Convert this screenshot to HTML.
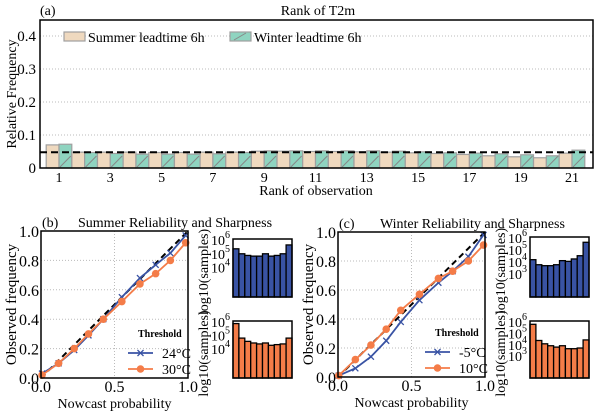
<!DOCTYPE html>
<html><head><meta charset="utf-8">
<style>
html,body{margin:0;padding:0;background:#fff;}
svg, svg text{font-family:"Liberation Serif","Times New Roman",Times,serif;}
svg{display:block;}
</style></head>
<body>
<svg id="fig" width="600" height="415" viewBox="0 0 600 415" font-family="Liberation Serif, Times New Roman, serif">
<g id="pa"></g>
<g id="pb"></g>
<g id="pc"></g>
</svg>
<script>
// ---- Panel (a) data ----
const ranks = [1,2,3,4,5,6,7,8,9,10,11,12,13,14,15,16,17,18,19,20,21];
const summerFreq = [0.070,0.048,0.048,0.048,0.047,0.047,0.048,0.048,0.051,0.051,0.050,0.050,0.049,0.048,0.046,0.044,0.041,0.037,0.034,0.031,0.045];
const winterFreq = [0.072,0.047,0.044,0.042,0.042,0.042,0.043,0.047,0.052,0.052,0.052,0.052,0.052,0.051,0.049,0.046,0.045,0.043,0.040,0.037,0.054];
const rankYTicks = [0,0.1,0.2,0.3,0.4];
const rankXTickLabels = [1,3,5,7,9,11,13,15,17,19,21];
// ---- Reliability data ----
const sumProbA = [0.007,0.12,0.226,0.323,0.424,0.55,0.673,0.78,0.88,0.984];
const sum24 = [0.03,0.10,0.19,0.29,0.40,0.55,0.68,0.77,0.85,0.97];
const sum30 = [0.02,0.10,0.20,0.30,0.40,0.52,0.64,0.71,0.80,0.92];
const winProb = [0.005,0.118,0.224,0.328,0.427,0.554,0.683,0.78,0.887,0.99];
const winM5 = [0.01,0.06,0.14,0.25,0.38,0.53,0.65,0.73,0.83,0.98];
const win10 = [0.01,0.12,0.22,0.33,0.46,0.57,0.68,0.73,0.80,0.91];
const relTicks = [0,0.2,0.4,0.6,0.8,1.0];
const relXTicks = [0,0.5,1.0];
// ---- Sharpness (log10 counts) ----
const sharpSum24 = [5.29,4.93,4.81,4.76,4.76,4.93,4.76,4.81,4.93,5.57];
const sharpSum30 = [5.81,4.74,4.50,4.38,4.31,4.38,4.21,4.26,4.31,4.74];
const sharpWinM5 = [4.11,3.69,3.61,3.61,3.69,4.03,3.97,4.17,4.44,5.56];
const sharpWin10 = [5.71,4.29,4.00,3.83,3.71,3.83,3.57,3.57,3.63,4.34];

const NS="http://www.w3.org/2000/svg";
const FF="Liberation Serif, Times New Roman, serif";
function mk(parent,tag,attrs,text){const e=document.createElementNS(NS,tag);for(const k in attrs)e.setAttribute(k,attrs[k]);if(tag==='text')e.setAttribute('font-family',FF);if(text!==undefined)e.textContent=text;parent.appendChild(e);return e;}

// ===== Panel A =====
(function(){
const g=document.getElementById('pa');
const L=40,R=593,T=20,B=168;
const y=v=>B-v*330;
const xc=r=>59+(r-1)*25.65;
rankYTicks.forEach(t=>{
 if(t>0){const gl=mk(g,'line',{x1:L,x2:R,y1:y(t),y2:y(t),stroke:'#bbb','stroke-dasharray':'1,2','stroke-width':1});
 }
 const tl=mk(g,'text',{x:L-4,y:y(t)+5,'font-size':15,'text-anchor':'end'},t===0?'0':t.toFixed(1));
 
});
ranks.forEach((r,i)=>{
 const w=12.8;
 const b1=mk(g,'rect',{x:xc(r)-w,y:y(summerFreq[i]),width:w,height:B-y(summerFreq[i]),fill:'#efd9bf',stroke:'#a0a0a0','stroke-width':1.2});
 
 const b2=mk(g,'rect',{x:xc(r),y:y(winterFreq[i]),width:w,height:B-y(winterFreq[i]),fill:'#8fd4c0',stroke:'#a0a0a0','stroke-width':1.2});
 
 const h=mk(g,'line',{x1:xc(r)+1,y1:B-1,x2:xc(r)+w-1,y2:B-12,stroke:'#888','stroke-width':1});
 
});
const ref=mk(g,'line',{x1:L,x2:R,y1:y(1/21),y2:y(1/21),stroke:'#000','stroke-width':2,'stroke-dasharray':'7,4'});

const fr=mk(g,'rect',{x:L,y:T,width:R-L,height:B-T,fill:'none',stroke:'#000','stroke-width':1.5});

rankXTickLabels.forEach(r=>{
 const tl=mk(g,'text',{x:xc(r),y:182,'font-size':14,'text-anchor':'middle'},String(r));
 
});
const xl=mk(g,'text',{x:316,y:195,'font-size':14,'text-anchor':'middle'},'Rank of observation');

const yl=mk(g,'text',{x:0,y:0,'font-size':14,'text-anchor':'middle',transform:'translate(16,94) rotate(-90)'},'Relative Frequency');

const tt=mk(g,'text',{x:318,y:15,'font-size':14,'text-anchor':'middle'},'Rank of T2m');

const pl=mk(g,'text',{x:40,y:15,'font-size':14},'(a)');

const lg=mk(g,'g',{});

const p1=mk(lg,'rect',{x:64,y:32,width:21,height:9,fill:'#efd9bf',stroke:'#a0a0a0','stroke-width':1.2});

const t1=mk(lg,'text',{x:88,y:42,'font-size':14},'Summer leadtime 6h');

const p2=mk(lg,'rect',{x:230,y:32,width:21,height:9,fill:'#8fd4c0',stroke:'#a0a0a0','stroke-width':1.2});

mk(lg,'line',{x1:234,y1:40,x2:246,y2:33,stroke:'#888','stroke-width':1});
const t2=mk(lg,'text',{x:254,y:42,'font-size':14},'Winter leadtime 6h');

})();

// ===== Reliability panels =====
function relPanel(gid,o){
 const g=document.getElementById(gid);
 const L=o.L,R=o.R,T=o.T,B=o.B;
 const x=v=>L+v*(R-L), y=v=>B-v*(B-T);
 [0.5].forEach(v=>{const gl=mk(g,'line',{x1:x(v),x2:x(v),y1:T,y2:B,stroke:'#bbb','stroke-dasharray':'1,2'});
  });
 relTicks.forEach(v=>{
  if(v>0&&v<1){const gl=mk(g,'line',{x1:L,x2:R,y1:y(v),y2:y(v),stroke:'#bbb','stroke-dasharray':'1,2'});
  }
  const tl=mk(g,'text',{x:L-2,y:y(v)+6,'font-size':16,'text-anchor':'end'},v.toFixed(1));
  
 });
 relXTicks.forEach(v=>{
  const tl=mk(g,'text',{x:x(v),y:B+14,'font-size':16,'text-anchor':'middle'},v.toFixed(1));
  
 });
 const dl=mk(g,'line',{x1:x(0),y1:y(0),x2:x(1),y2:y(1),stroke:'#000','stroke-width':2,'stroke-dasharray':'6,4'});
 
 const bp=o.px.map((p,i)=>x(p)+','+y(o.blue[i])).join(' ');
 const bl=mk(g,'polyline',{points:bp,fill:'none',stroke:'#3953a4','stroke-width':1.8});
 
 o.px.forEach((p,i)=>{const cx=x(p),cy=y(o.blue[i]);
  const m=mk(g,'path',{d:`M${cx-3},${cy-3}L${cx+3},${cy+3}M${cx-3},${cy+3}L${cx+3},${cy-3}`,stroke:'#3953a4','stroke-width':1.3});
  });
 const op=o.px.map((p,i)=>x(p)+','+y(o.orange[i])).join(' ');
 const ol=mk(g,'polyline',{points:op,fill:'none',stroke:'#f47c48','stroke-width':1.8});
 
 o.px.forEach((p,i)=>{
  const m=mk(g,'circle',{cx:x(p),cy:y(o.orange[i]),r:3.8,fill:'#f47c48'});
  });
 const fr=mk(g,'rect',{x:L,y:T,width:R-L,height:B-T,fill:'none',stroke:'#000','stroke-width':1.5});
 
 const pl=mk(g,'text',{x:L+1,y:T-4,'font-size':14},o.label);
 
 const tt=mk(g,'text',{x:o.titleX,y:T-4,'font-size':14},o.title);
 
 const xl=mk(g,'text',{x:(L+R)/2,y:B+30,'font-size':14,'text-anchor':'middle'},'Nowcast probability');
 
 const yl=mk(g,'text',{x:0,y:0,'font-size':15,'text-anchor':'middle',transform:`translate(${L-25},${(T+B)/2}) rotate(-90)`},'Observed frequency');
 
 const lg=mk(g,'g',{});
 
 const lt=mk(lg,'text',{x:L+97,y:B-41,'font-size':10,'font-weight':'bold'},'Threshold');
 
 const lx1=L+87,lx2=L+112;
 mk(lg,'line',{x1:lx1,x2:lx2,y1:B-25,y2:B-25,stroke:'#3953a4','stroke-width':1.8});
 const mx=(lx1+lx2)/2,my=B-25;
 mk(lg,'path',{d:`M${mx-3},${my-3}L${mx+3},${my+3}M${mx-3},${my+3}L${mx+3},${my-3}`,stroke:'#3953a4','stroke-width':1.3});
 const l1=mk(lg,'text',{x:L+121,y:B-20,'font-size':14},o.blueLabel);
 
 mk(lg,'line',{x1:lx1,x2:lx2,y1:B-9,y2:B-9,stroke:'#f47c48','stroke-width':1.8});
 mk(lg,'circle',{cx:mx,cy:B-9,r:3.8,fill:'#f47c48'});
 const l2=mk(lg,'text',{x:L+121,y:B-4,'font-size':14},o.orangeLabel);
 
 [[o.sharpBlue,o.hb,'#3953a4','cold-sharpness'],[o.sharpOrange,o.ho,'#f47c48','warm-sharpness']].forEach(([vals,box,col,nm])=>{
  const sg=mk(g,'g',{});
  
  const hy=v=>box.B-(v-o.lmin)/(6-o.lmin)*(box.B-box.T);
  const bw=(o.HR-o.HL)/vals.length;
  vals.forEach((v,i)=>{
   const r=mk(sg,'rect',{x:o.HL+i*bw,y:hy(v),width:bw,height:box.B-hy(v),fill:col,stroke:'#000','stroke-width':1.3});
   
  });
  mk(sg,'rect',{x:o.HL,y:box.T,width:o.HR-o.HL,height:box.B-box.T,fill:'none',stroke:'#000','stroke-width':1.5});
  o.ltk.forEach(k=>{
   const t=mk(sg,'text',{x:o.HL-3,y:hy(k)+6,'font-size':14,'text-anchor':'end'},'10');
   
   mk(t,'tspan',{dy:-7,'font-size':10},String(k));
  });
  const yl=mk(sg,'text',{x:0,y:0,'font-size':14,'text-anchor':'middle',transform:`translate(${o.HL-25},${(box.T+box.B)/2+4}) rotate(-90)`},'log10(samples)');
  
 });
}
relPanel('pb',{L:41,R:188,T:231,B:378,label:'(b)',title:'Summer  Reliability and Sharpness',titleX:78,
 px:sumProbA,blue:sum24,orange:sum30,blueLabel:'24°C',orangeLabel:'30°C',
 sharpBlue:sharpSum24,sharpOrange:sharpSum30,HL:233,HR:292,hb:{T:239,B:297},ho:{T:321,B:378},lmin:1.8,ltk:[4,5,6]});
relPanel('pc',{L:338,R:485,T:232,B:377,label:'(c)',title:'Winter  Reliability and Sharpness',titleX:380,
 px:winProb,blue:winM5,orange:win10,blueLabel:'-5°C',orangeLabel:'10°C',
 sharpBlue:sharpWinM5,sharpOrange:sharpWin10,HL:530,HR:589,hb:{T:237,B:297},ho:{T:321,B:378},lmin:1.0,ltk:[3,4,5,6]});
</script>
</body></html>
